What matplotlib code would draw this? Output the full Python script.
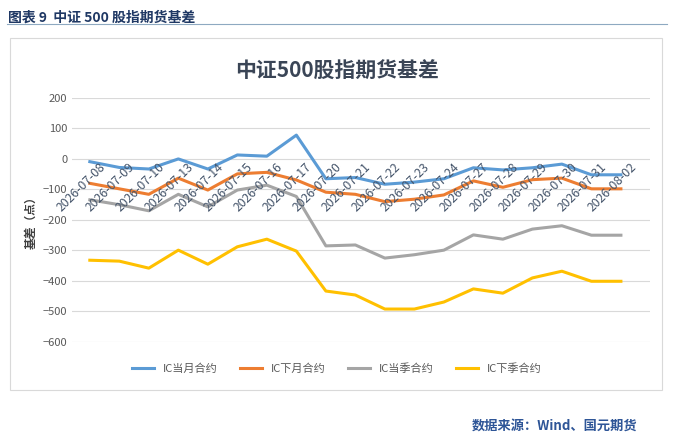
import matplotlib.pyplot as plt
from matplotlib.patches import Rectangle
from matplotlib.lines import Line2D

plt.rcParams['font.family'] = ['Noto Sans CJK SC', 'DejaVu Sans']

dates = ['2026-07-08', '2026-07-09', '2026-07-10', '2026-07-13', '2026-07-14', '2026-07-15',
         '2026-07-16', '2026-07-17', '2026-07-20', '2026-07-21', '2026-07-22', '2026-07-23',
         '2026-07-24', '2026-07-27', '2026-07-28', '2026-07-29', '2026-07-30', '2026-07-31',
         '2026-08-02']
ic_cur = [-9, -28, -33, 0, -33, 13, 9, 78, -65, -61, -83, -76, -65, -29, -36, -29, -17, -52, -52]
ic_next = [-80, -98, -116, -63, -102, -49, -44, -69, -109, -116, -140, -132, -118, -72, -93, -68, -63, -98, -98]
ic_q = [-134, -150, -170, -116, -157, -102, -86, -123, -285, -282, -325, -314, -299, -249, -263, -230, -219, -250, -250]
ic_nq = [-332, -335, -358, -299, -345, -288, -263, -302, -433, -446, -492, -492, -469, -426, -440, -390, -368, -401, -401]
series = [('IC当月合约', ic_cur, '#5B9BD5'), ('IC下月合约', ic_next, '#ED7D31'),
          ('IC当季合约', ic_q, '#A5A5A5'), ('IC下季合约', ic_nq, '#FFC000')]

fig = plt.figure(figsize=(6.74, 4.43), dpi=100)
fig.text(0.012, 0.975, '图表 9  中证 500 股指期货基差', fontsize=10, fontweight='bold',
         color='#1F3864', va='top')
fig.add_artist(Line2D([0.01, 0.99], [0.945, 0.945], color='#8EA9C1', lw=0.8))
fig.add_artist(Rectangle((0.015, 0.12), 0.967, 0.795, fill=False, ec='#D9D9D9', lw=0.8))
fig.text(0.5, 0.84, '中证500股指期货基差', fontsize=15, fontweight='bold', color='#3A4556',
         ha='center', va='center')
fig.text(0.945, 0.04, '数据来源：Wind、国元期货', fontsize=9.5, fontweight='bold',
         color='#2E5597', ha='right', va='center')

ax = fig.add_axes([0.107, 0.228, 0.858, 0.551])
x = list(range(len(dates)))
handles = []
for name, vals, col in series:
    h, = ax.plot(x, vals, color=col, lw=2.2, label=name)
    handles.append(h)
ax.set_ylim(-600, 200)
ax.set_yticks(range(-600, 201, 100))
ax.set_xlim(-0.6, 19.0)
ax.set_xticks([])
ax.grid(axis='y', color='#D9D9D9', lw=0.8)
ax.set_axisbelow(True)
for s in ax.spines.values():
    s.set_visible(False)
ax.tick_params(axis='y', length=0, labelsize=8, colors='#595959')
for i, d in enumerate(dates):
    ax.text(i + 0.3, -6, d, rotation=45, ha='right', va='top', rotation_mode='anchor',
            fontsize=8.8, color='#44546A')
ax.set_ylabel('基差（点）', fontsize=8.5, fontweight='bold', color='#404040', labelpad=4)
fig.legend(handles=handles, loc='center', bbox_to_anchor=(0.5, 0.168), ncol=4, frameon=False,
           fontsize=8, handlelength=2.0, columnspacing=2.0, labelcolor='#595959')

fig.savefig('out.png', dpi=100)
